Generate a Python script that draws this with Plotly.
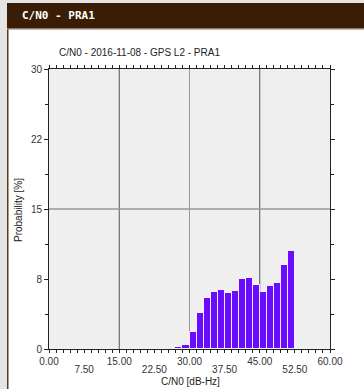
import plotly.graph_objects as go

# Data
bin_starts = [27.0, 28.5, 30.0, 31.5, 33.0, 34.5, 36.0, 37.5, 39.0, 40.5, 42.0, 43.5, 45.0, 46.5, 48.0, 49.5, 51.0]
probabilities = [0.19, 0.47, 1.78, 3.84, 5.44, 6.14, 6.33, 5.95, 6.23, 7.45, 7.59, 6.89, 6.14, 6.8, 7.03, 9.0, 10.5]
bin_width = 1.5
x_tick_vals_row1 = [0, 15, 30, 45, 60]
x_tick_text_row1 = ["0.00", "15.00", "30.00", "45.00", "60.00"]
x_tick_vals_row2 = [7.5, 22.5, 37.5, 52.5]
x_tick_text_row2 = ["7.50", "22.50", "37.50", "52.50"]
y_tick_vals = [0, 7.5, 15, 22.5, 30]
y_tick_text = ["0", "8", "15", "22", "30"]

W, H = 364, 389
L, R, T, B = 49, 330, 69, 349

def px(x):
    return (x - L) / (R - L)

def py(y):
    return (B - y) / (B - T)

centers = [s + bin_width / 2 for s in bin_starts]

fig = go.Figure(go.Bar(
    x=centers, y=probabilities, width=bin_width,
    marker=dict(color="#6a0dff", line=dict(color="#f4eeff", width=1)),
    hoverinfo="x+y",
))

shapes = [
    dict(type="rect", xref="paper", yref="paper", x0=px(0), x1=px(7), y0=py(H), y1=py(0),
         fillcolor="#e4e4e4", line_width=0, layer="below"),
    dict(type="rect", xref="paper", yref="paper", x0=px(0), x1=px(W), y0=py(3), y1=py(0),
         fillcolor="#e4e4e4", line_width=0, layer="below"),
    dict(type="rect", xref="paper", yref="paper", x0=px(7), x1=px(8.5), y0=py(H), y1=py(3),
         fillcolor="#5a3a1a", line_width=0, layer="below"),
    dict(type="rect", xref="paper", yref="paper", x0=px(7), x1=px(W), y0=py(28), y1=py(3),
         fillcolor="#3a1d04", line_width=0, layer="below"),
    dict(type="rect", xref="paper", yref="paper", x0=px(7), x1=px(W), y0=py(29.5), y1=py(28),
         fillcolor="#8a7a6a", line_width=0, layer="below"),
]

annotations = [
    dict(text="<b>C/N0 - PRA1</b>", xref="paper", yref="paper", x=px(20), y=py(15.5),
         xanchor="left", yanchor="middle", showarrow=False,
         font=dict(family="DejaVu Sans Mono", size=11, color="#ffffff")),
    dict(text="C/N0 - 2016-11-08 - GPS L2 - PRA1", xref="paper", yref="paper", x=px(57), y=py(52),
         xanchor="left", yanchor="middle", showarrow=False,
         font=dict(family="Liberation Sans", size=10, color="#222222")),
    dict(text="Probability [%]", xref="paper", yref="paper", x=px(18), y=py(210),
         xanchor="center", yanchor="middle", showarrow=False, textangle=-90,
         font=dict(family="Liberation Sans", size=10, color="#222222")),
    dict(text="C/N0 [dB-Hz]", xref="paper", yref="paper", x=px(190), y=py(381),
         xanchor="center", yanchor="middle", showarrow=False,
         font=dict(family="Liberation Sans", size=10, color="#222222")),
]

fig.update_layout(
    width=W, height=H,
    margin=dict(l=L, r=W - R, t=T, b=H - B, pad=0, autoexpand=False),
    paper_bgcolor="#ffffff",
    plot_bgcolor="#efefef",
    bargap=0,
    showlegend=False,
    shapes=shapes,
    annotations=annotations,
    font=dict(family="Liberation Sans", size=10, color="#333333"),
    xaxis=dict(
        range=[0, 60], tickmode="array", tickvals=x_tick_vals_row1, ticktext=x_tick_text_row1,
        ticks="outside", ticklen=3, tickcolor="#222", showline=True, linecolor="#222", linewidth=1,
        mirror="ticks", showgrid=False, zeroline=False, automargin=False,
        minor=dict(tickvals=[v * 1.5 for v in range(41)], ticks="outside", ticklen=3,
                   tickcolor="#222", showgrid=False),
        tickfont=dict(size=10, color="#333"),
    ),
    xaxis2=dict(
        range=[0, 60], overlaying="x", anchor="y", side="bottom", matches="x",
        tickmode="array", tickvals=x_tick_vals_row2, ticktext=x_tick_text_row2,
        ticks="", showline=False, showgrid=False, zeroline=False, automargin=False,
        ticklabelstandoff=13, tickfont=dict(size=10, color="#333"),
    ),
    yaxis=dict(
        range=[0, 30], tickmode="array", tickvals=y_tick_vals, ticktext=y_tick_text,
        ticks="outside", ticklen=4, tickcolor="#222", showline=True, linecolor="#222", linewidth=1,
        mirror="ticks", showgrid=False, zeroline=False, automargin=False,
        minor=dict(tickvals=[v * 3.75 for v in range(9)], ticks="outside", ticklen=3,
                   tickcolor="#222", showgrid=False),
        tickfont=dict(size=10, color="#333"),
    ),
)

# invisible trace to activate the second x axis (row of alternate tick labels)
fig.add_trace(go.Scatter(x=[0, 60], y=[0, 0], xaxis="x2", yaxis="y", mode="lines",
                         line=dict(width=0), hoverinfo="skip", showlegend=False))

for xv, col in [(15, "#555555"), (30, "#999999"), (45, "#555555")]:
    fig.add_shape(type="line", xref="x", yref="paper", x0=xv, x1=xv, y0=0, y1=1,
                  line=dict(color=col, width=1), layer="below")
fig.add_shape(type="line", xref="paper", yref="y", x0=0, x1=1, y0=15, y1=15,
              line=dict(color="#999999", width=1.5), layer="below")

fig.write_html(
    "out.html",
    config={"displayModeBar": False},
    post_script="document.body.style.margin='0';document.body.style.overflow='hidden';",
)
